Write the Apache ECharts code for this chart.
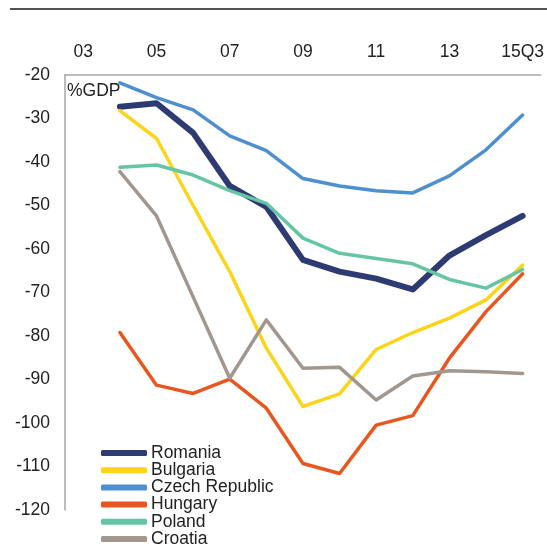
<!DOCTYPE html>
<html>
<head>
<meta charset="utf-8">
<style>
  html, body { margin: 0; padding: 0; background: #fff; }
  #chart { width: 547px; height: 547px; }
</style>
<script src="https://cdn.jsdelivr.net/npm/echarts@6/dist/echarts.min.js"></script>
</head>
<body>
<div id="chart"></div>
<script>
// years on the category axis, only every other one gets a label
const years = ['03', '04', '05', '06', '07', '08', '09', '10', '11', '12', '13', '14', '15Q3']

const romania = [null, -27.3, -26.5, -33.3, -45.5, -50.3, -62.5, -65.2, -66.8, -69.3, -61.5, -56.8, -52.4]
const bulgaria = [null, -28.2, -34.6, -50.0, -65.2, -82.8, -96.2, -93.3, -83.1, -79.2, -75.9, -71.7, -63.7]
const czech = [null, -21.8, -25.2, -28.0, -34.0, -37.4, -43.8, -45.5, -46.6, -47.1, -43.2, -37.2, -29.2]
const hungary = [null, -79.2, -91.3, -93.2, -89.9, -96.6, -109.3, -111.6, -100.5, -98.3, -85.1, -74.4, -65.7]
const poland = [null, -41.2, -40.7, -43.0, -46.6, -49.5, -57.5, -61.0, -62.2, -63.4, -67.0, -69.0, -64.7]
const croatia = [null, -42.2, -52.4, -71.0, -89.7, -76.3, -87.4, -87.2, -94.7, -89.2, -88.0, -88.2, -88.6]

const font = '"Liberation Sans", Arial, sans-serif'
const fs = 17.5

function line(name, data, color, width) {
  return {
    name: name,
    type: 'line',
    data: data,
    symbol: 'none',
    connectNulls: false,
    lineStyle: { color: color, width: width, cap: 'round', join: 'round' },
    itemStyle: { color: color },
    animation: false
  }
}

const chart = echarts.init(document.getElementById('chart'))

chart.setOption({
  backgroundColor: '#fff',
  textStyle: { fontFamily: font },
  grid: { left: 65, right: 6, top: 75, bottom: 37 },
  graphic: [
    {
      type: 'line',
      shape: { x1: 10, y1: 9, x2: 547, y2: 9 },
      style: { stroke: '#1a1a1a', lineWidth: 1.5 }
    },
    {
      type: 'text',
      left: 67,
      top: 82,
      style: { text: '%GDP', fill: '#222', font: fs + 'px ' + font }
    }
  ],
  legend: {
    orient: 'vertical',
    left: 101,
    top: 444,
    height: 110,
    padding: 0,
    icon: 'roundRect',
    itemWidth: 46,
    itemHeight: 6,
    itemGap: -0.8,
    textStyle: { fontSize: fs, color: '#222', lineHeight: 17, padding: [0, 0, 0, -1] },
    data: ['Romania', 'Bulgaria', 'Czech Republic', 'Hungary', 'Poland', 'Croatia']
  },
  xAxis: {
    type: 'category',
    position: 'top',
    data: years,
    boundaryGap: true,
    axisLine: { lineStyle: { color: '#a6a6a6', width: 1.5 } },
    axisTick: { show: false },
    axisLabel: { interval: 1, fontSize: fs, color: '#222', margin: 14 },
    splitLine: { show: false }
  },
  yAxis: {
    type: 'value',
    min: -120,
    max: -20,
    interval: 10,
    axisLine: { show: true, lineStyle: { color: '#a6a6a6', width: 1.5 } },
    axisTick: { show: false },
    axisLabel: { fontSize: fs, color: '#222', margin: 15 },
    splitLine: { show: false }
  },
  series: [
    line('Romania', romania, '#2e3a72', 6),
    line('Bulgaria', bulgaria, '#fdd418', 3.5),
    line('Czech Republic', czech, '#4e90cf', 3.5),
    line('Hungary', hungary, '#e9561f', 3.5),
    line('Poland', poland, '#65c6a6', 3.5),
    line('Croatia', croatia, '#a2978f', 3.5)
  ]
})
</script>
</body>
</html>
